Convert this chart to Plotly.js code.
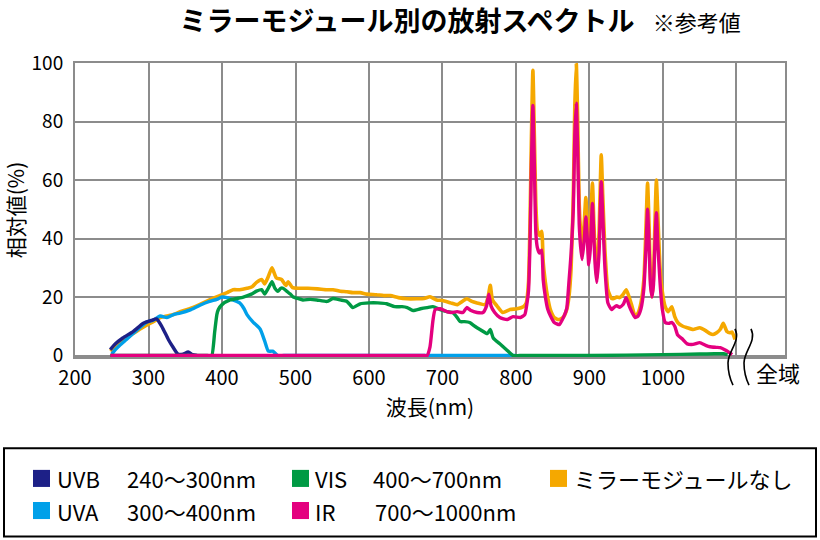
<!DOCTYPE html>
<html><head><meta charset="utf-8">
<script src="https://cdn.plot.ly/plotly-3.0.1.min.js"></script>
<style>body{margin:0;background:#fff}#chart{width:820px;height:540px}</style>
</head><body><div id="chart"></div>
<script>
// ---- data (wavelength nm, relative value %) ----
const noneX = [248,255,262,270,279,288,298,306,316,325,334,343,356,370,383,397,407,415,424,434,441,447,454,458,463,468,474,481,487,490,496,505,517,530,543,551,561,570,578,588,597,610,620,629,640,652,665,675,683,692,700,711,720,733,740,747,758,762,765,768,774,782,792,801,810,814,817,819,821,823,825,827,829,832,835,837,840,843,847,852,858,864,869,872,875,878,880,882,884,886,888,890,893,895,897,899,901,904,906,908,910,913,916,918,921,925,930,933,937,941,946,950,954,958,962,966,970,974,977,979,981,983,985,987,989,991,993,996,999,1003,1007,1012,1016,1020,1027,1033,1041,1050,1058,1064,1068,1073,1078,1082,1087,1091,1094,1098];
const noneY = [1.5,3,4.5,6,7.5,9,10.5,11.5,13,13.5,14,15,16,17.5,19,20.5,21.5,22.5,22.5,23,23.5,25,26,24.5,27,30,26.5,26,24,25.2,23.2,23,23,22.8,22.5,22.5,22,21.8,21.5,21.5,21,20.8,20.5,20.5,19.8,19.4,19.4,19.5,20.1,19,18.8,18,17.4,19.4,18.5,18,17.4,20,24,19,17,14.7,15.7,16,16.7,18,25,45,75,97.5,75,52,43,41,42.5,32,25,20,15.5,13,12.3,13,15.7,20,30,55,85,100,80,52,42,36,46,54,45,34,42,59,45,33,26,42,68.6,55,36,22.5,19.5,19.5,20,19.8,21,22.5,20,16.7,13.5,14.5,18,26,45,59,45,26,20,26,45,60,48,30,22,16.7,15,16.7,13.3,11.3,10,9.5,8.9,9.5,8.5,7.5,7.2,7.8,9,11,8.2,7.8,8,5.5];

const irX = [248,400,600,672,676,679,683,687,690,697,706,712,720,728,733,738,747,755,760,763,766,771,778,788,796,806,812,815,817,819,821,823,825,827,829,832,835,837,840,843,847,852,859,865,869,872,875,878,880,882,884,886,888,890,893,895,897,899,901,904,906,908,910,913,916,918,921,925,930,933,937,941,946,950,954,958,962,966,970,974,977,979,981,983,985,987,989,991,993,996,999,1003,1008,1012,1016,1020,1027,1033,1041,1050,1058,1064,1072,1078,1084,1088,1094];
const irY = [0,0,0,0,0,0,3,12,15.7,16,15,14.7,15,14.7,16.4,15.5,14.7,14.7,17,21,17,14.7,13,12.3,13.3,13,14,18,22,38,65,85.5,65,42,37,35,36,26,20,16,13.5,11.3,10.6,13.3,16,25,35,50,75,86.3,70,45,37,32.8,40,47.4,40,31,36,52,40,30,25,35,59.4,48,30,18,15.7,16.4,17,16.5,17.5,19.8,17,14.7,13,13.5,16,23,38,50,38,24,20,24,38,48.8,38,25,16,11.3,11,11.3,10,7,5.5,4,3.8,4.4,3.5,3,2.8,2.7,2,1.4,0.3];

const visX = [248,300,380,386,390,393,395,400,411,420,429,440,447,454,458,463,468,472,476,480,483,488,493,497,503,510,520,529,543,551,561,570,578,588,600,612,624,635,645,652,660,670,679,687,697,706,714,720,724,730,737,744,751,761,765,769,778,787,796,805,900,1000,1050,1070,1082,1088];
const visY = [0,0,0,0,8,14,15.7,17.4,19,19.5,20,21,22,22.5,21,23,25.2,23,22,23,23,22,21,20,19.5,19,19.2,19,18.5,19.5,19,18.5,16.4,17.7,18,18,17.7,16.7,16.7,16.4,15.4,16,16.4,16.7,15.7,15,14.7,13,11.6,11.6,11.3,10,8.9,7.5,8.9,6,4,2,0,0,0,0.3,0.5,0.6,0.6,0.3];

const uvaX = [250,255,261,270,279,288,298,306,316,325,334,343,356,370,383,393,400,407,415,424,430,434,442,452,458,463,469,476,484,600,800];
const uvaY = [0.5,2,3.5,5.5,7.5,9.5,11.5,12,13.5,13,14,14.5,15.5,17.2,18.5,19.2,20,19.8,19,18,16,14,11.5,9,5,1.5,1.5,0,0,0,0];

const uvbX = [248,255,265,279,293,304,311,318,327,333,340,347,354,360,366];
const uvbY = [2,4,6,8.2,11,12,12.5,10,5.5,3,0.5,0.5,1.2,0.3,0];

const xTickVals = [200,300,400,500,600,700,800,900,1000,1100];
const xTickText = ['200','300','400','500','600','700','800','900','1000',''];
const yTickVals = [0,20,40,60,80,100];
const yTickText = ['0','20','40','60','80','100'];

const legendNames  = ['UVB','UVA','VIS','IR','ミラーモジュールなし'];
const legendRanges = ['240～300nm','300～400nm','400～700nm','700～1000nm',''];
const seriesColors = {uvb:'#1d2087', uva:'#00a0e9', vis:'#009a44', ir:'#e4007f', none:'#f5a800'};
const legendColors = [seriesColors.uvb, seriesColors.uva, seriesColors.vis, seriesColors.ir, seriesColors.none];

// ---- drawing ----
const L=75, R=785, T=63, B=356;
const px = x => (x-L)/(R-L);
const py = y => (B-y)/(B-T);

function line(x,y,c,w){ return {x:x,y:y,type:'scatter',mode:'lines',line:{color:c,width:w,shape:'spline',smoothing:0.5},hoverinfo:'skip',showlegend:false}; }
const traces = [
  line(noneX,noneY,seriesColors.none,3.6),
  line(uvaX,uvaY,seriesColors.uva,3.4),
  line(uvbX,uvbY,seriesColors.uvb,3.4),
  line(visX,visY,seriesColors.vis,3.4),
  line(irX,irY,seriesColors.ir,3.4)
];

const shapes = [];
const annotations = [];
// legend frame
shapes.push({type:'rect',xref:'paper',yref:'paper',x0:px(4),x1:px(816),y0:py(535),y1:py(447),line:{color:'#000',width:2},fillcolor:'rgba(0,0,0,0)'});
const legPos = [[33,477,55,125],[33,509,55,125],[292,477,313,371],[292,509,313,373],[550,477,572,0]];
legendNames.forEach((n,i)=>{
  const p = legPos[i];
  shapes.push({type:'rect',xref:'paper',yref:'paper',x0:px(p[0]),x1:px(p[0]+17),y0:py(p[1]+8.5),y1:py(p[1]-8.5),fillcolor:legendColors[i],line:{width:0}});
  annotations.push({xref:'paper',yref:'paper',x:px(p[2]),y:py(p[1]),xanchor:'left',yanchor:'middle',text:n,showarrow:false,font:{size:22,color:'#000'}});
  if(legendRanges[i]) annotations.push({xref:'paper',yref:'paper',x:px(p[3]),y:py(p[1]),xanchor:'left',yanchor:'middle',text:legendRanges[i],showarrow:false,font:{size:22,color:'#000'}});
});
// axis break marks
function brk(dx){
  return `M ${px(735+dx)} ${py(328)} C ${px(741+dx)} ${py(340)} ${px(728+dx)} ${py(350)} ${px(728+dx)} ${py(362)} C ${px(728+dx)} ${py(372)} ${px(730+dx)} ${py(378)} ${px(733+dx)} ${py(384)}`;
}
shapes.push({type:'path',xref:'paper',yref:'paper',path:brk(0),line:{color:'#000',width:1.6}});
shapes.push({type:'path',xref:'paper',yref:'paper',path:brk(16),line:{color:'#000',width:1.6}});
annotations.push({xref:'paper',yref:'paper',x:px(778),y:py(371),xanchor:'center',yanchor:'middle',text:'全域',showarrow:false,font:{size:22,color:'#000'}});

const font = '"Noto Sans CJK JP", "Noto Sans", sans-serif';
const layout = {
  width:820, height:540,
  margin:{l:L, r:820-R, t:T, b:182.5},
  paper_bgcolor:'#fff', plot_bgcolor:'#fff',
  font:{family:font, color:'#000'},
  showlegend:false,
  title:{text:'<b>ミラーモジュール別の放射スペクトル</b><span style="font-size:18px">\u3000</span><span style="font-size:22px">※参考値</span>', x:0.561, xanchor:'center', xref:'container', y:1-22/540, yanchor:'middle', font:{size:27, color:'#000', family:font}},
  xaxis:{range:[200,1166], tickvals:xTickVals, ticktext:xTickText, showgrid:true, gridcolor:'#8c8c8c', gridwidth:2,
         showline:true, mirror:true, linecolor:'#8c8c8c', linewidth:2, zeroline:false, ticks:'', tickfont:{size:20},
         ticklabelstandoff:2, layer:'below traces',
         title:{text:'波長(nm)', font:{size:21}, standoff:4}, automargin:false, fixedrange:true},
  yaxis:{range:[-0.5,100], tickvals:yTickVals, ticktext:yTickText, showgrid:true, gridcolor:'#8c8c8c', gridwidth:2,
         showline:true, mirror:true, linecolor:'#8c8c8c', linewidth:2, zeroline:false, ticks:'', tickfont:{size:19},
         ticklabelstandoff:6, layer:'below traces', title:{text:'相対値(%)', font:{size:21}, standoff:10}, automargin:false, fixedrange:true},
  shapes:shapes, annotations:annotations
};
Plotly.newPlot('chart', traces, layout, {displayModeBar:false, staticPlot:true});
</script>
</body></html>
